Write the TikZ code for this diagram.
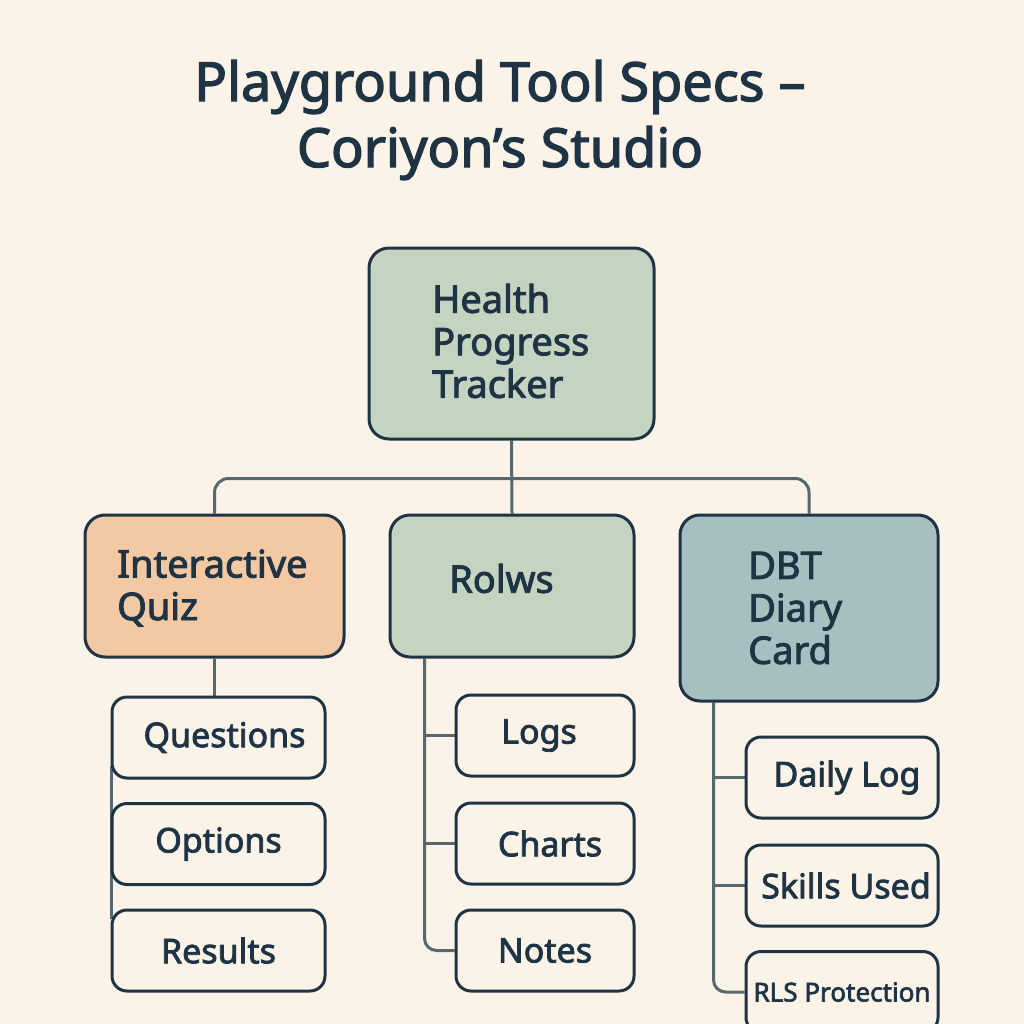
\documentclass[tikz,border=0pt]{standalone}
\usepackage{fontspec}
\setmainfont{Noto Sans}[FakeBold=2.4]
\usetikzlibrary{calc,backgrounds}
\definecolor{bg}{HTML}{FBF3E8}
\definecolor{ink}{HTML}{1E3445}
\definecolor{wire}{HTML}{56686E}
\definecolor{sage}{HTML}{C4D4C0}
\definecolor{peach}{HTML}{F2C9A3}
\definecolor{slate}{HTML}{A8BFC2}
\begin{document}
\begin{tikzpicture}[x=1pt,y=-1pt,
  box/.style={draw=ink, line width=3pt, rounded corners=20pt, inner sep=0pt},
  sub/.style={box, fill=bg, rounded corners=15pt, font=\fontsize{34}{40}\selectfont, text=ink},
  lbl/.style={inner sep=0pt, text=ink, align=left, anchor=west, font=\fontsize{38}{42.5}\selectfont},
  conn/.style={draw=wire, line width=3pt, rounded corners=12pt}]
\useasboundingbox (0,0) rectangle (1024,1024);
% title
\node[inner sep=0pt, text=ink, align=center, font=\fontsize{54}{66}\selectfont] (title) at (500,120) {Playground Tool Specs –\\Coriyon’s Studio};
% main boxes
\node[box, fill=sage, minimum width=285pt, minimum height=191pt] (root) at (511.5,343.5) {};
\node[lbl] (rootT) at (432,341) {Health\\Progress\\Tracker};
\node[box, fill=peach, minimum width=259pt, minimum height=142pt] (quiz) at (214.5,586) {};
\node[lbl] (quizT) at (117,588) {Interactive\\Quiz};
\node[box, fill=sage, minimum width=244pt, minimum height=142pt] (rolws) at (512,586) {};
\node[lbl] (rolwsT) at (449,578.5) {Rolws};
\node[box, fill=slate, minimum width=258pt, minimum height=186pt] (dbt) at (809,608) {};
\node[lbl] (dbtT) at (748,608) {DBT\\Diary\\Card};
% sub boxes
\node[sub, minimum width=213pt, minimum height=81pt] (q1) at (218.5,737.5) {\hspace*{12pt}Questions};
\node[sub, minimum width=213pt, minimum height=81pt] (q2) at (218.5,844) {Options};
\node[sub, minimum width=213pt, minimum height=81pt] (q3) at (218.5,950.5) {Results};
\node[sub, minimum width=178pt, minimum height=81pt] (r1) at (545,735.5) {Logs\hspace*{12pt}};
\node[sub, minimum width=178pt, minimum height=81pt] (r2) at (545,843.5) {\hspace*{10pt}Charts};
\node[sub, minimum width=178pt, minimum height=81pt] (r3) at (545,950.5) {Notes};
\node[sub, minimum width=192pt, minimum height=81pt] (d1) at (842,777.5) {\hspace*{10pt}Daily Log};
\node[sub, minimum width=192pt, minimum height=81pt] (d2) at (842,885.5) {\hspace*{8pt}Skills Used};
\node[sub, minimum width=192pt, minimum height=81pt, font=\fontsize{26}{32}\selectfont] (d3) at (842,992) {RLS Protection};
\begin{pgfonlayer}{background}
\fill[bg] (0,0) rectangle (1024,1024);
\coordinate (bus) at ($(root.south)+(0,38)$);
\draw[conn, rounded corners=14pt] (quiz.north) |- (bus) -| (dbt.north);
\draw[conn] (root.south) -- (rolws.north);
\draw[conn] (quiz.south) -- (quiz.south |- q1.north);
\draw[conn] ($(q1.south west)+(1,-14)$) -- ($(q3.north west)+(1,10)$);
\coordinate (mtop) at ($(rolws.south west)+(36,0)$);
\draw[conn] (mtop) |- (r3.west);
\draw[conn] (mtop |- r1.west) -- (r1.west);
\draw[conn] (mtop |- r2.west) -- (r2.west);
\coordinate (dtop) at ($(dbt.south west)+(35,0)$);
\draw[conn] (dtop) |- (d3.west);
\draw[conn] (dtop |- d1.west) -- (d1.west);
\draw[conn] (dtop |- d2.west) -- (d2.west);
\end{pgfonlayer}
\end{tikzpicture}
\end{document}
